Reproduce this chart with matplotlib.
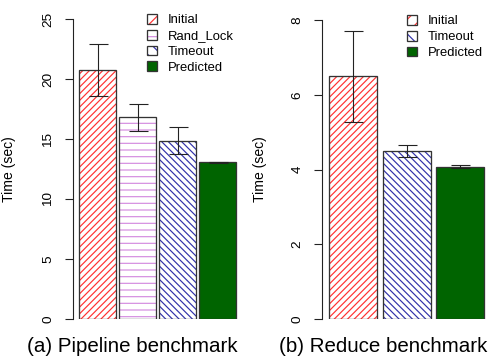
import matplotlib
matplotlib.use("Agg")
import matplotlib.pyplot as plt
from matplotlib.patches import Patch
import numpy as np

# data
pipe_labels = ["Initial", "Rand_Lock", "Timeout", "Predicted"]
pipe_mean = [20.75, 16.8, 14.85, 13.07]
pipe_lo = [18.6, 15.7, 13.75, 13.03]
pipe_hi = [22.9, 17.9, 16.0, 13.12]

red_labels = ["Initial", "Timeout", "Predicted"]
red_mean = [6.5, 4.49, 4.07]
red_lo = [5.27, 4.33, 4.04]
red_hi = [7.72, 4.65, 4.11]

# bar hatch, legend-box hatch, colour
styles = {
    "Initial": dict(hatch="////", key="//", color="#ff3333", fill=False),
    "Rand_Lock": dict(hatch="--", key="--", color="#d58ee0", fill=False),
    "Timeout": dict(hatch="\\\\\\\\", key="\\\\", color="#3333aa", fill=False),
    "Predicted": dict(hatch=None, key=None, color="#006400", fill=True),
}

DPI = 80
W, H = 489, 358
PT = 72.0 / DPI  # points per pixel

plt.rcParams["font.family"] = ["Liberation Sans", "DejaVu Sans"]
plt.rcParams["hatch.linewidth"] = 1.2 * PT

fig = plt.figure(figsize=(W / DPI, H / DPI), dpi=DPI)

edge = "#333333"


def panel(ax, labels, mean, lo, hi, width, ymax, ticks, caption, cap_x, leg_xy):
    x = np.arange(len(labels))
    handles = []
    for i, lab in enumerate(labels):
        st = styles[lab]
        if st["fill"]:
            ax.bar(x[i], mean[i], width, color=st["color"], edgecolor=edge,
                   linewidth=1.3 * PT, zorder=2)
            handles.append(Patch(facecolor=st["color"], edgecolor=edge, linewidth=1.3 * PT))
        else:
            ax.bar(x[i], mean[i], width, color="white", edgecolor=st["color"],
                   hatch=st["hatch"], linewidth=0, zorder=2)
            ax.bar(x[i], mean[i], width, fill=False, edgecolor=edge,
                   linewidth=1.3 * PT, zorder=3)
            handles.append((Patch(facecolor="white", edgecolor=st["color"], hatch=st["key"], linewidth=0),
                            Patch(fill=False, edgecolor=edge, linewidth=1.3 * PT)))
    err = [np.array(mean) - np.array(lo), np.array(hi) - np.array(mean)]
    ax.errorbar(x, mean, yerr=err, fmt="none", ecolor="#222222",
                elinewidth=1.1 * PT, capsize=9.5 * PT, capthick=1.1 * PT, zorder=4)

    ax.set_ylim(0, ymax)
    ax.set_yticks(ticks)
    ax.set_yticklabels([str(t) for t in ticks], rotation=90, va="center",
                       fontsize=13.5 * PT)
    ax.tick_params(axis="y", length=8.5 * PT, width=1.1 * PT, pad=10 * PT,
                   direction="out", color="#222222")
    ax.set_xticks([])
    for s in ["top", "right", "bottom"]:
        ax.spines[s].set_visible(False)
    ax.spines["left"].set_bounds(0, ticks[-1])
    ax.spines["left"].set_linewidth(1.1 * PT)
    ax.spines["left"].set_color("#222222")
    ax.set_ylabel("Time (sec)", fontsize=14 * PT)
    fig.text(cap_x / W, 1 - 347 / H, caption, ha="center", va="center",
             fontsize=20.5 * PT)
    fig.legend(handles, labels, loc="upper left",
               bbox_to_anchor=(leg_xy[0] / W, 1 - leg_xy[1] / H),
               frameon=False, fontsize=13 * PT, handlelength=0.78,
               handleheight=0.78, handletextpad=0.85, labelspacing=0.26,
               borderpad=0, borderaxespad=0)
    return ax


# left panel: axis line at x=73, bars 79..236, 40 px pitch
axl = fig.add_axes([73 / W, 39 / H, 167 / W, 300 / H])
axl.set_xlim(-0.6125, 3.5625)
panel(axl, pipe_labels, pipe_mean, pipe_lo, pipe_hi, 37 / 40, 25,
      [0, 5, 10, 15, 20, 25], "(a) Pipeline benchmark", 132, (147, 14))
axl.yaxis.set_label_coords((16 - 73) / 167, 0.5)

# right panel: axis line at x=322, 53.5 px pitch
axr = fig.add_axes([322 / W, 39 / H, 167 / W, 300 / H])
axr.set_xlim(-0.58, 2.54)
panel(axr, red_labels, red_mean, red_lo, red_hi, 48 / 53.5, 8.03,
      [0, 2, 4, 6, 8], "(b) Reduce benchmark", 383, (407, 15))
axr.yaxis.set_label_coords((267 - 322) / 167, 0.5)

fig.savefig("out.png", dpi=DPI)
